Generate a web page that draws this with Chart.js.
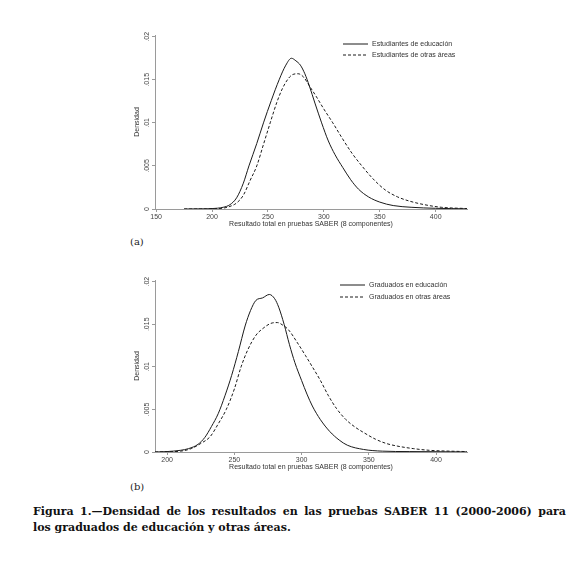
<!DOCTYPE html>
<html>
<head>
<meta charset="utf-8">
<script src="https://cdn.jsdelivr.net/npm/chart.js@4.4.1/dist/chart.umd.min.js"></script>
<style>
  body { margin: 0; background: #fff; width: 586px; height: 566px; position: relative; overflow: hidden; }
  #boxA { position: absolute; left: 120px; top: 25px; width: 360px; height: 210px; }
  #boxB { position: absolute; left: 120px; top: 270px; width: 360px; height: 208px; }
  .sub { position: absolute; font-family: 'DejaVu Serif', serif; font-size: 10px; color: #222; }
  .cap { position: absolute; left: 33px; width: 533px; font-family: 'DejaVu Serif', serif; font-weight: bold;
         font-size: 11px; text-align: justify; text-align-last: justify; color: #111; white-space: nowrap; }
</style>
</head>
<body>
<div id="boxA"><canvas id="chartA"></canvas></div>
<div id="boxB"><canvas id="chartB"></canvas></div>
<div class="sub" style="left:130px; top:236px;">(a)</div>
<div class="sub" style="left:130px; top:481px;">(b)</div>
<div class="cap" style="top:505px;">Figura 1.—Densidad de los resultados en las pruebas SABER 11 (2000-2006) para</div>
<div class="cap" style="top:521px; text-align-last: left;">los graduados de educación y otras áreas.</div>
<script>
// (a) estudiantes
const scoresEduA = [175, 190, 200, 210, 216, 222, 228, 233, 240, 246, 253, 260, 266, 271, 275, 279, 283, 287, 292, 298, 304, 310, 317, 324, 331, 340, 350, 362, 378, 400, 428];
const densEduA   = [0, 0.00002, 0.00005, 0.0002, 0.0005, 0.0013, 0.003, 0.005, 0.0076, 0.01, 0.0126, 0.015, 0.0167, 0.0175, 0.0172, 0.0167, 0.0157, 0.0143, 0.0123, 0.01, 0.0079, 0.0063, 0.0048, 0.0034, 0.0023, 0.0014, 0.0008, 0.0004, 0.0002, 0.00008, 0.00002];
const scoresOtrA = [175, 200, 210, 216, 222, 228, 234, 240, 246, 252, 258, 263, 268, 272, 277, 282, 287, 293, 300, 308, 316, 325, 334, 344, 355, 366, 377, 390, 405, 428];
const densOtrA   = [0, 0.00003, 0.0001, 0.0003, 0.0007, 0.0016, 0.0033, 0.005, 0.0075, 0.01, 0.0124, 0.014, 0.0151, 0.0156, 0.0157, 0.0153, 0.0143, 0.0131, 0.0116, 0.01, 0.0083, 0.0065, 0.005, 0.0035, 0.0022, 0.0014, 0.0009, 0.0005, 0.0002, 0.00005];

// (b) graduados
const scoresEduB = [191, 200, 210, 216, 223, 228, 233, 238, 243, 248, 253, 258, 262, 266, 271, 276, 280, 283, 287, 291, 295, 300, 304, 308, 314, 321, 328, 334, 346, 360, 380, 423];
const densEduB   = [0, 0.00005, 0.0002, 0.0004, 0.0009, 0.0017, 0.003, 0.0045, 0.0066, 0.009, 0.0118, 0.0148, 0.0166, 0.0178, 0.0181, 0.0185, 0.018, 0.017, 0.015, 0.0126, 0.0105, 0.0084, 0.0068, 0.0054, 0.0038, 0.0024, 0.0014, 0.0008, 0.0003, 0.0001, 0.00005, 0.00001];
const scoresOtrB = [191, 200, 210, 218, 225, 232, 238, 244, 250, 255, 260, 266, 272, 277, 282, 286, 290, 297, 303, 308, 314, 320, 326, 333, 340, 346, 355, 363, 371, 383, 395, 410, 423];
const densOtrB   = [0, 0.00003, 0.0001, 0.0004, 0.001, 0.0018, 0.0033, 0.005, 0.0074, 0.01, 0.012, 0.0137, 0.0146, 0.0151, 0.0152, 0.0149, 0.0144, 0.0128, 0.0113, 0.01, 0.0084, 0.0066, 0.0051, 0.0038, 0.0029, 0.0023, 0.0015, 0.001, 0.0007, 0.0004, 0.0002, 0.0001, 0.00005];

const xTicksA = [150, 200, 250, 300, 350, 400];
const xTicksB = [200, 250, 300, 350, 400];
const yTicks = [0, 0.005, 0.01, 0.015, 0.02];
const yTickLabels = ['0', '.005', '.01', '.015', '.02'];

const FONT = '"Liberation Sans", Arial, sans-serif';
const AXIS = '#9a9a9a';

const lineLegendPlugin = {
    id: 'lineLegend',
    afterDraw: (chart, args, opts) => {
        const ctx = chart.ctx;
        ctx.save();
        ctx.font = '7px ' + FONT;
        ctx.textBaseline = 'middle';
        ctx.textAlign = 'left';
        ctx.fillStyle = '#333';
        chart.data.datasets.forEach((ds, i) => {
            const y = opts.y + i * opts.gap;
            ctx.strokeStyle = ds.borderColor;
            ctx.lineWidth = 1;
            ctx.setLineDash(ds.borderDash || []);
            ctx.beginPath();
            ctx.moveTo(opts.x, y);
            ctx.lineTo(opts.x + 25, y);
            ctx.stroke();
            ctx.fillText(ds.label, opts.x + 29, y);
        });
        ctx.restore();
    }
};

function toPoints(xs, ys) {
    return xs.map((x, i) => ({ x: x, y: ys[i] }));
}

function makeChart(id, labels, series, xMin, xMax, xTicks, legend) {
    return new Chart(document.getElementById(id), {
        type: 'line',
        data: {
            datasets: [{
                label: labels[0],
                data: toPoints(series[0], series[1]),
                borderColor: '#1a1a1a',
                borderWidth: 1,
                pointRadius: 0,
                cubicInterpolationMode: 'monotone'
            }, {
                label: labels[1],
                data: toPoints(series[2], series[3]),
                borderColor: '#1a1a1a',
                borderWidth: 1,
                borderDash: [3, 2],
                pointRadius: 0,
                cubicInterpolationMode: 'monotone'
            }]
        },
        options: {
            responsive: true,
            maintainAspectRatio: false,
            animation: false,
            layout: { padding: { top: 10, right: 13, left: 0, bottom: 0 } },
            plugins: {
                legend: { display: false },
                tooltip: { enabled: false },
                lineLegend: legend
            },
            scales: {
                x: {
                    type: 'linear',
                    min: xMin,
                    max: xMax,
                    afterBuildTicks: (scale) => { scale.ticks = xTicks.map(v => ({ value: v })); },
                    afterFit: (scale) => { scale.height = 26; },
                    grid: { drawOnChartArea: false, drawTicks: true, tickLength: 3, color: AXIS },
                    border: { display: true, color: AXIS },
                    ticks: { font: { family: FONT, size: 7 }, color: '#444', padding: 1, maxRotation: 0 },
                    title: {
                        display: true,
                        text: 'Resultado total en pruebas SABER (8 componentes)',
                        font: { family: FONT, size: 7 },
                        color: '#333',
                        padding: { top: 0, bottom: 7 }
                    }
                },
                y: {
                    min: 0,
                    max: 0.0202,
                    afterBuildTicks: (scale) => { scale.ticks = yTicks.map(v => ({ value: v })); },
                    afterFit: (scale) => { scale.width = 35; },
                    grid: { drawOnChartArea: false, drawTicks: true, tickLength: 3, color: AXIS },
                    border: { display: true, color: AXIS },
                    ticks: {
                        font: { family: FONT, size: 7 },
                        color: '#444',
                        minRotation: 90,
                        maxRotation: 90,
                        crossAlign: 'center',
                        padding: -1.5,
                        callback: (value) => yTickLabels[yTicks.indexOf(value)]
                    },
                    title: {
                        display: true,
                        text: 'Densidad',
                        font: { family: FONT, size: 7 },
                        color: '#333',
                        padding: { top: 13, bottom: 0 }
                    }
                }
            }
        },
        plugins: [lineLegendPlugin]
    });
}

makeChart('chartA',
    ['Estudiantes de educación', 'Estudiantes de otras áreas'],
    [scoresEduA, densEduA, scoresOtrA, densOtrA],
    149, 428, xTicksA, { x: 223, y: 19, gap: 11 });

makeChart('chartB',
    ['Graduados en educación', 'Graduados en otras áreas'],
    [scoresEduB, densEduB, scoresOtrB, densOtrB],
    191, 423, xTicksB, { x: 220, y: 15, gap: 12 });
</script>
</body>
</html>
